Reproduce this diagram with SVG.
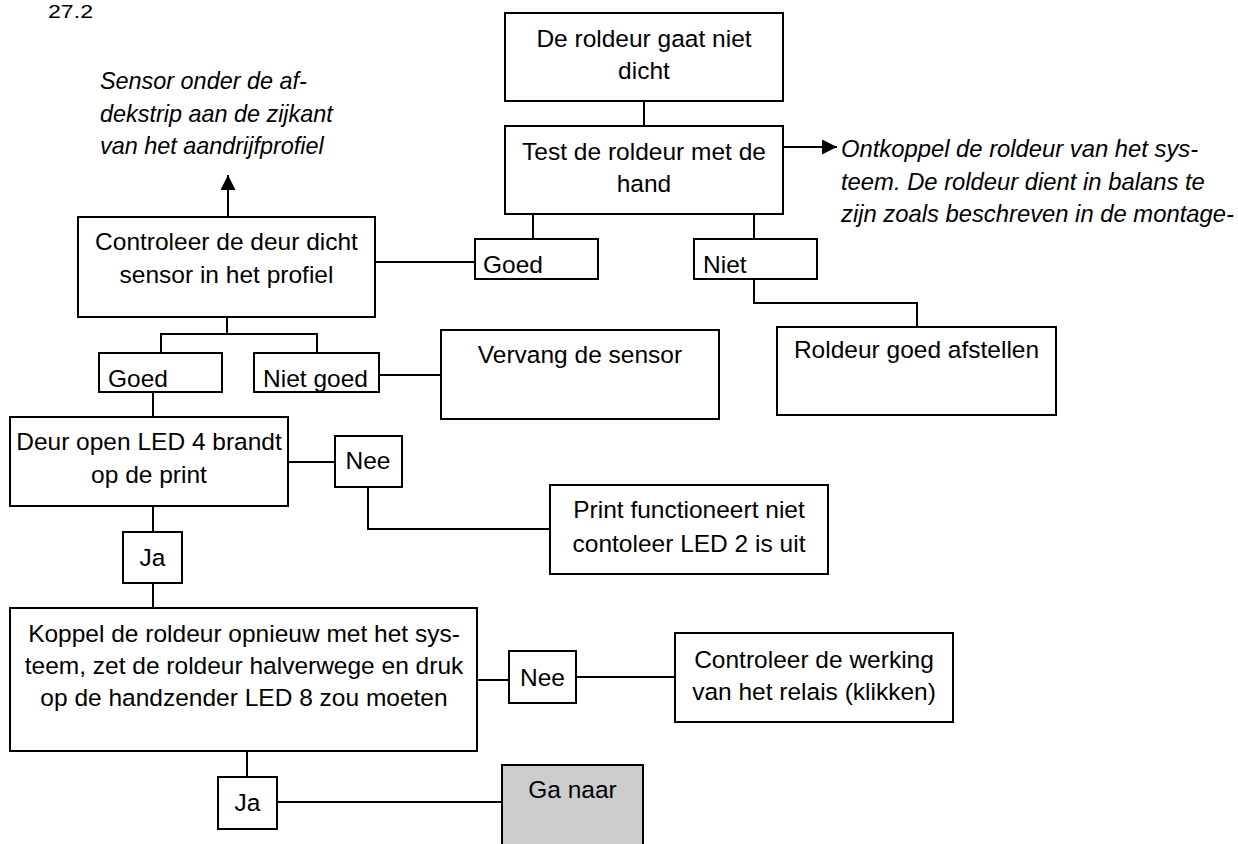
<svg xmlns="http://www.w3.org/2000/svg" width="1238" height="844" viewBox="0 0 1238 844">
<style>
.box{fill:#fff;stroke:#000;stroke-width:2}
.grey{fill:#cccccc;stroke:#000;stroke-width:2}
.t{font-family:"Liberation Sans",Arial,sans-serif;font-size:24.5px;fill:#000}
.c{text-anchor:middle}
.i{font-family:"Liberation Sans",Arial,sans-serif;font-size:23.8px;font-style:italic;fill:#000}
.ln{fill:none;stroke:#000;stroke-width:2}
</style>
<defs>
<marker id="arr" markerUnits="userSpaceOnUse" markerWidth="16" markerHeight="16" refX="15" refY="7.5" orient="auto">
<path d="M0,0 L15,7.5 L0,15 z" fill="#000"/>
</marker>
</defs>
<rect width="1238" height="844" fill="#fff"/>
<text class="t" x="48" y="18" style="font-size:19px" textLength="45" lengthAdjust="spacingAndGlyphs">27.2</text>

<g id="connectors">
<path class="ln" d="M644 101 V126"/>
<path class="ln" d="M783 147 H837" marker-end="url(#arr)"/>
<path class="ln" d="M533 214 V239"/>
<path class="ln" d="M754 214 V239"/>
<path class="ln" d="M754 279 V303 H917 V327"/>
<path class="ln" d="M475 262 H375"/>
<path class="ln" d="M228 217 V175" marker-end="url(#arr)"/>
<path class="ln" d="M227 317 V334"/>
<path class="ln" d="M161 353 V334 H317 V353"/>
<path class="ln" d="M379 375 H441"/>
<path class="ln" d="M153 392 V417"/>
<path class="ln" d="M288 462 H335"/>
<path class="ln" d="M368 487 V529 H550"/>
<path class="ln" d="M153 506 V532"/>
<path class="ln" d="M153 583 V608"/>
<path class="ln" d="M477 680 H509"/>
<path class="ln" d="M576 677 H675"/>
<path class="ln" d="M247 751 V777"/>
<path class="ln" d="M277 802 H502"/>
</g>

<g id="top">
<rect class="box" x="505" y="13" width="278" height="88"/>
<text class="t c" x="644" y="47">De roldeur gaat niet</text>
<text class="t c" x="644" y="79">dicht</text>
</g>
<g id="test">
<rect class="box" x="505" y="126" width="278" height="88"/>
<text class="t c" x="644" y="160">Test de roldeur met de</text>
<text class="t c" x="644" y="192">hand</text>
</g>
<g id="note-ontkoppel">
<text class="i" x="841" y="157">Ontkoppel de roldeur van het sys-</text>
<text class="i" x="841" y="190">teem. De roldeur dient in balans te</text>
<text class="i" x="841" y="222">zijn zoals beschreven in de montage-</text>
</g>
<g id="goed1">
<rect class="box" x="475" y="239" width="123" height="40"/>
<text class="t" x="483" y="273">Goed</text>
</g>
<g id="niet1">
<rect class="box" x="694" y="239" width="123" height="40"/>
<text class="t" x="703" y="273">Niet</text>
</g>
<g id="roldeur">
<rect class="box" x="777" y="327" width="279" height="88"/>
<text class="t c" x="916.5" y="358">Roldeur goed afstellen</text>
</g>
<g id="controleer">
<rect class="box" x="78" y="217" width="297" height="100"/>
<text class="t c" x="226.5" y="250">Controleer de deur dicht</text>
<text class="t c" x="226.5" y="283">sensor in het profiel</text>
</g>
<g id="note-sensor">
<text class="i" x="100" y="89" style="font-size:23.4px">Sensor onder de af-</text>
<text class="i" x="100" y="122" style="font-size:23.4px">dekstrip aan de zijkant</text>
<text class="i" x="100" y="154" style="font-size:23.4px">van het aandrijfprofiel</text>
</g>
<g id="goed2">
<rect class="box" x="99" y="353" width="123" height="39"/>
<text class="t" x="108" y="387">Goed</text>
</g>
<g id="nietgoed">
<rect class="box" x="254" y="353" width="125" height="39"/>
<text class="t" x="263" y="387">Niet goed</text>
</g>
<g id="vervang">
<rect class="box" x="441" y="330" width="278" height="89"/>
<text class="t c" x="580" y="363">Vervang de sensor</text>
</g>
<g id="deur">
<rect class="box" x="10" y="417" width="278" height="89"/>
<text class="t c" x="149" y="450">Deur open LED 4 brandt</text>
<text class="t c" x="149" y="483">op de print</text>
</g>
<g id="nee1">
<rect class="box" x="335" y="436" width="67" height="51"/>
<text class="t c" x="368" y="469">Nee</text>
</g>
<g id="print">
<rect class="box" x="550" y="485" width="278" height="89"/>
<text class="t c" x="689" y="518">Print functioneert niet</text>
<text class="t c" x="689" y="552">contoleer LED 2 is uit</text>
</g>
<g id="ja1">
<rect class="box" x="123" y="532" width="59" height="51"/>
<text class="t c" x="152.5" y="566">Ja</text>
</g>
<g id="koppel">
<rect class="box" x="10" y="608" width="467" height="143"/>
<text class="t c" x="244" y="642">Koppel de roldeur opnieuw met het sys-</text>
<text class="t c" x="244" y="674">teem, zet de roldeur halverwege en druk</text>
<text class="t c" x="244" y="706">op de handzender LED 8 zou moeten</text>
</g>
<g id="nee2">
<rect class="box" x="509" y="651" width="67" height="52"/>
<text class="t c" x="542.5" y="686">Nee</text>
</g>
<g id="relais">
<rect class="box" x="675" y="633" width="278" height="89"/>
<text class="t c" x="814" y="668">Controleer de werking</text>
<text class="t c" x="814" y="700">van het relais (klikken)</text>
</g>
<g id="ja2">
<rect class="box" x="218" y="777" width="59" height="52"/>
<text class="t c" x="247.5" y="811">Ja</text>
</g>
<g id="ganaar">
<rect class="grey" x="502" y="765" width="141" height="100"/>
<text class="t c" x="572.5" y="798">Ga naar</text>
</g>
</svg>
